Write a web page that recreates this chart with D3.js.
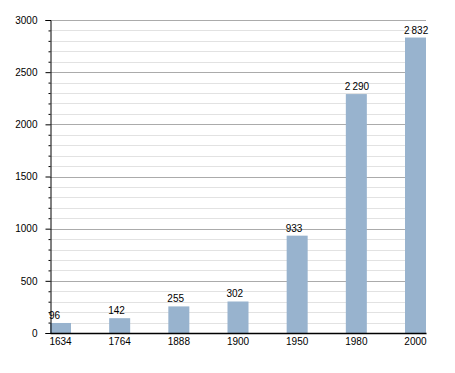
<!DOCTYPE html>
<html>
<head>
<meta charset="utf-8">
<script src="https://cdn.jsdelivr.net/npm/d3@7"></script>
<style>
  html, body { margin: 0; padding: 0; background: #fff; }
  text { font-family: "Liberation Sans", Arial, sans-serif; font-size: 10px; fill: #000; }
</style>
</head>
<body>
<svg id="chart" width="455" height="373"></svg>
<script>
const years = ["1634", "1764", "1888", "1900", "1950", "1980", "2000"];
const population = [96, 142, 255, 302, 933, 2290, 2832];
const valueLabels = ["96", "142", "255", "302", "933", "2\u2009290", "2\u2009832"];
const yTicks = [0, 500, 1000, 1500, 2000, 2500, 3000];

(function () {
const svg = d3.select("#chart");
const mLeft = 50, mRight = 426, mTop = 20, mBottom = 333;

const x = d3.scaleBand().domain(years).range([mLeft, mRight]).paddingInner(0.645).paddingOuter(0);
const y = d3.scaleLinear().domain([0, 3000]).range([mBottom, mTop]);

const minor = d3.range(0, 3001, 100).filter(v => v % 500 !== 0);

// minor gridlines
svg.append("g").selectAll("line").data(minor).join("line")
  .attr("x1", mLeft).attr("x2", mRight)
  .attr("y1", d => Math.round(y(d)) + 0.5).attr("y2", d => Math.round(y(d)) + 0.5)
  .attr("stroke", "#e2e2e2").attr("stroke-width", 1);
// major gridlines
svg.append("g").selectAll("line").data(yTicks.filter(v => v > 0)).join("line")
  .attr("x1", mLeft).attr("x2", mRight)
  .attr("y1", d => Math.round(y(d)) + 0.5).attr("y2", d => Math.round(y(d)) + 0.5)
  .attr("stroke", "#ababab").attr("stroke-width", 1);

// bars
svg.append("g").selectAll("rect").data(population).join("rect")
  .attr("x", (d, i) => x(years[i]))
  .attr("width", x.bandwidth())
  .attr("y", d => y(d))
  .attr("height", d => mBottom - y(d))
  .attr("fill", "#98b3ce");

// value labels
svg.append("g").selectAll("text").data(population).join("text")
  .attr("x", (d, i) => x(years[i]) - 1)
  .attr("y", d => y(d) - 4)
  .attr("text-anchor", "start")
  .text((d, i) => valueLabels[i]);

// y axis
const yAxis = d3.axisLeft(y).tickValues(yTicks).tickSize(5).tickPadding(8).tickFormat(d3.format("d"));
const gy = svg.append("g").attr("transform", `translate(${mLeft + 0.5},0)`).call(yAxis);
gy.select(".domain").attr("stroke", "#000");
gy.selectAll(".tick text").style("font-family", "Liberation Sans, Arial, sans-serif").style("font-size", "10px").attr("fill", "#000");
gy.selectAll(".tick line").attr("stroke", "#000");
const yMinor = d3.axisLeft(y).tickValues(minor).tickSize(2).tickFormat("");
const gm = svg.append("g").attr("transform", `translate(${mLeft + 0.5},0)`).call(yMinor);
gm.select(".domain").remove();
gm.selectAll(".tick line").attr("stroke", "#000");

// x axis
const xAxis = d3.axisBottom(x).tickSize(0).tickPadding(5);
const gx = svg.append("g").attr("transform", `translate(0,${mBottom})`).call(xAxis);
gx.select(".domain").attr("stroke", "#000").attr("stroke-width", 1.5);
gx.selectAll(".tick text").style("font-family", "Liberation Sans, Arial, sans-serif").style("font-size", "10px").attr("fill", "#000");
})();
</script>
</body>
</html>
